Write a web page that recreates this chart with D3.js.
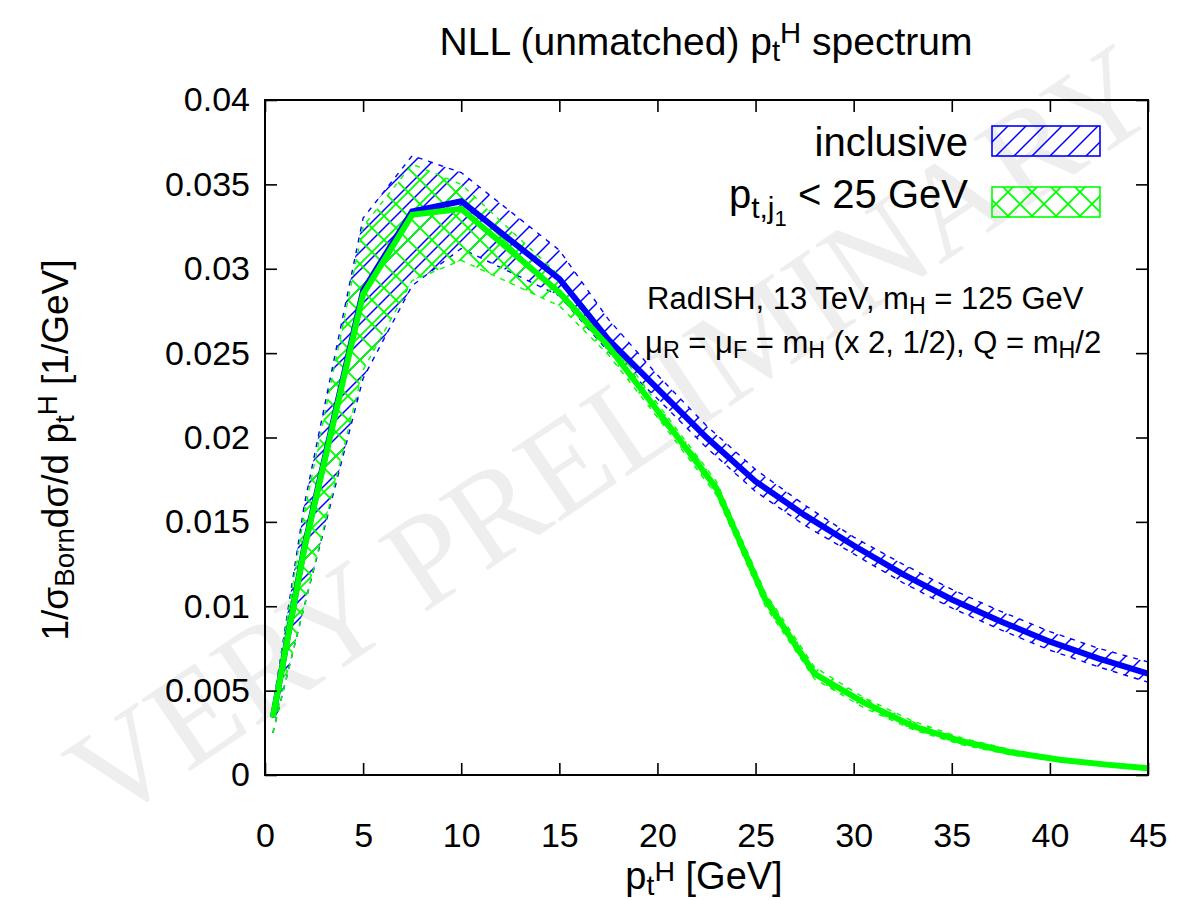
<!DOCTYPE html>
<html><head><meta charset="utf-8">
<script src="https://cdn.jsdelivr.net/npm/d3@7"></script>
<style>
html,body{margin:0;padding:0;background:#fff;}
text{font-family:"Liberation Sans",Arial,Helvetica,sans-serif;fill:#000;}
</style></head>
<body><svg id="chart" width="1190" height="900"></svg>
<script>
// ---------- data ----------
const xTicks = [0,5,10,15,20,25,30,35,40,45];
const yTicks = [0,0.005,0.01,0.015,0.02,0.025,0.03,0.035,0.04];

// inclusive (blue)
const inclX     = [0.4, 2, 5, 7.5, 10, 15, 17.5, 20, 22.5, 25, 27.5, 30, 32.5, 35, 37.5, 40, 42.5, 45];
const inclMid   = [0.0034,0.0135,0.0287,0.0334,0.0340,0.0294,0.0258,0.0229,0.0200,0.0174,0.0154,0.0136,0.0119,0.0104,0.0091,0.0079,0.0069,0.0060];
const inclHigh  = [0.0040,0.0160,0.0330,0.0367,0.0357,0.0311,0.0270,0.0237,0.0207,0.0181,0.0160,0.0141,0.0125,0.0110,0.0097,0.0085,0.0075,0.0067];
const inclLow   = [0.0025,0.0100,0.0235,0.0290,0.0312,0.0284,0.0251,0.0223,0.0194,0.0168,0.0148,0.0131,0.0114,0.0099,0.0086,0.0074,0.0064,0.0055];

// p_t,j1 < 25 GeV (green)
const vetoX     = [0.4, 2, 5, 7.5, 10, 15, 17.5, 20, 23, 25.5, 28, 30.5, 33, 35.5, 38, 40.5, 43, 45];
const vetoMid   = [0.0034,0.0134,0.0285,0.0332,0.03355,0.0286,0.0254,0.0216,0.0170,0.0104,0.0060,0.0043,0.0029,0.0020,0.00135,0.0009,0.0006,0.0004];
const vetoHigh  = [0.0040,0.0155,0.0325,0.0362,0.0350,0.0296,0.0260,0.0220,0.0174,0.0108,0.0064,0.0046,0.0032,0.0022,0.0015,0.0010,0.0007,0.0005];
const vetoLow   = [0.0025,0.0100,0.0240,0.0293,0.0305,0.0278,0.0249,0.0212,0.0166,0.0100,0.0057,0.0040,0.0027,0.0018,0.0012,0.0008,0.0005,0.0003];

// ---------- layout ----------
const svg = d3.select("#chart");
const L=265, R=1148, T=100, B=775;
const x = d3.scaleLinear().domain([0,45]).range([L,R]);
const y = d3.scaleLinear().domain([0,0.04]).range([B,T]);
const BLUE="#0000ff", GREEN="#00ff00";

// patterns
const defs = svg.append("defs");
const pb = defs.append("pattern").attr("id","hatchBlue").attr("patternUnits","userSpaceOnUse")
  .attr("width",18).attr("height",18);
pb.append("path").attr("d","M-4,4 L4,-4 M0,18 L18,0 M14,22 L22,14").attr("stroke",BLUE).attr("stroke-width",1.5);
const pg = defs.append("pattern").attr("id","hatchGreen").attr("patternUnits","userSpaceOnUse")
  .attr("width",24).attr("height",24);
pg.append("path").attr("d","M0,24 L24,0 M-6,6 L6,-6 M18,30 L30,18 M0,0 L24,24 M-6,18 L6,30 M18,-6 L30,6").attr("stroke",GREEN).attr("stroke-width",1.8);
defs.append("clipPath").attr("id","plotClip").append("rect").attr("x",L).attr("y",T).attr("width",R-L).attr("height",B-T);

// watermark
svg.append("text").attr("transform","translate(636,470) rotate(-34)")
  .attr("text-anchor","middle")
  .style("font-family","'Liberation Serif','Times New Roman',serif")
  .style("font-size","132px").style("fill","#eeeeee")
  .text("VERY PRELIMINARY");

// ---------- bands and lines ----------
const plot = svg.append("g").attr("clip-path","url(#plotClip)");
function band(xs, lo, hi, fillId, color){
  const d = xs.map((v,i)=>({x:v, lo:lo[i], hi:hi[i]}));
  plot.append("path").datum(d)
    .attr("d", d3.area().x(p=>x(p.x)).y0(p=>y(p.lo)).y1(p=>y(p.hi)))
    .attr("fill",`url(#${fillId})`).attr("stroke","none");
  [lo,hi].forEach(arr=>{
    plot.append("path").datum(xs.map((v,i)=>[v,arr[i]]))
      .attr("d", d3.line().x(p=>x(p[0])).y(p=>y(p[1])))
      .attr("fill","none").attr("stroke",color).attr("stroke-width",1.4)
      .attr("stroke-dasharray","5,6");
  });
}
function line(xs, ys, color){
  plot.append("path").datum(xs.map((v,i)=>[v,ys[i]]))
    .attr("d", d3.line().x(p=>x(p[0])).y(p=>y(p[1])))
    .attr("fill","none").attr("stroke",color).attr("stroke-width",6)
    .attr("stroke-linejoin","miter");
}
band(inclX, inclLow, inclHigh, "hatchBlue", BLUE);
band(vetoX, vetoLow, vetoHigh, "hatchGreen", GREEN);
line(inclX, inclMid, BLUE);
line(vetoX, vetoMid, GREEN);

// ---------- axes ----------
const fmtY = d => d===0 ? "0" : String(+d.toFixed(3));
const gx = svg.append("g").attr("transform",`translate(0,${B})`)
  .call(d3.axisBottom(x).tickValues(xTicks).tickSize(-12).tickPadding(48).tickFormat(d3.format("d")));
const gy = svg.append("g").attr("transform",`translate(${L},0)`)
  .call(d3.axisLeft(y).tickValues(yTicks).tickSize(-12).tickPadding(15).tickFormat(fmtY));
const gt = svg.append("g").attr("transform",`translate(0,${T})`)
  .call(d3.axisTop(x).tickValues(xTicks).tickSize(-12).tickFormat(""));
const gr = svg.append("g").attr("transform",`translate(${R},0)`)
  .call(d3.axisRight(y).tickValues(yTicks).tickSize(-12).tickFormat(""));
[gx,gy,gt,gr].forEach(g=>{
  g.select(".domain").remove();
  g.selectAll(".tick line").attr("stroke","#000").attr("stroke-width",1.6);
  g.selectAll(".tick text").style("font-size","34px").attr("fill","#000");
});
svg.append("rect").attr("x",L).attr("y",T).attr("width",R-L).attr("height",B-T)
  .attr("fill","none").attr("stroke","#000").attr("stroke-width",2);

// ---------- texts ----------
function rich(sel, parts, supShift){
  parts.forEach(([t,k])=>{
    const ts = sel.append("tspan").text(t);
    if(k==="sub") ts.attr("baseline-shift","-20%").style("font-size","75%");
    if(k==="sup") ts.attr("baseline-shift",supShift||"40%").style("font-size","75%");
  });
}
// title
rich(svg.append("text").attr("x",706).attr("y",55).attr("text-anchor","middle").style("font-size","39px"),
  [["NLL (unmatched) p","n"],["t","sub"],["H","sup"],[" spectrum","n"]]);

// x label
rich(svg.append("text").attr("x",704).attr("y",889).attr("text-anchor","middle").style("font-size","38px"),
  [["p","n"],["t","sub"],["H","sup"],[" [GeV]","n"]], "28%");

// y label
rich(svg.append("text").attr("transform","translate(68,450) rotate(-90)").attr("text-anchor","middle").style("font-size","37px"),
  [["1/σ","n"],["Born","sub"],["dσ/d p","n"],["t","sub"],["H","sup"],[" [1/GeV]","n"]]);

// legend
svg.append("text").attr("x",968).attr("y",156).attr("text-anchor","end").style("font-size","40px").text("inclusive");
const lt = svg.append("text").attr("x",968).attr("y",208).attr("text-anchor","end").style("font-size","40px");
lt.append("tspan").text("p");
lt.append("tspan").attr("dy",10).style("font-size","30px").text("t,j");
lt.append("tspan").attr("dy",8).style("font-size","22px").text("1");
lt.append("tspan").attr("dy",-18).text(" < 25 GeV");

svg.append("rect").attr("x",992).attr("y",126).attr("width",108).attr("height",30)
  .attr("fill","url(#hatchBlue)").attr("stroke",BLUE).attr("stroke-width",1.6);
svg.append("rect").attr("x",992).attr("y",187).attr("width",108).attr("height",30)
  .attr("fill","url(#hatchGreen)").attr("stroke",GREEN).attr("stroke-width",1.6);

// annotation
rich(svg.append("text").attr("x",647).attr("y",309).style("font-size","31px"),
  [["RadISH, 13 TeV, m","n"],["H","sub"],[" = 125 GeV","n"]]);
rich(svg.append("text").attr("x",645).attr("y",353).style("font-size","31px"),
  [["μ","n"],["R","sub"],[" = μ","n"],["F","sub"],[" = m","n"],["H","sub"],[" (x 2, 1/2), Q = m","n"],["H","sub"],["/2","n"]]);
</script></body></html>
